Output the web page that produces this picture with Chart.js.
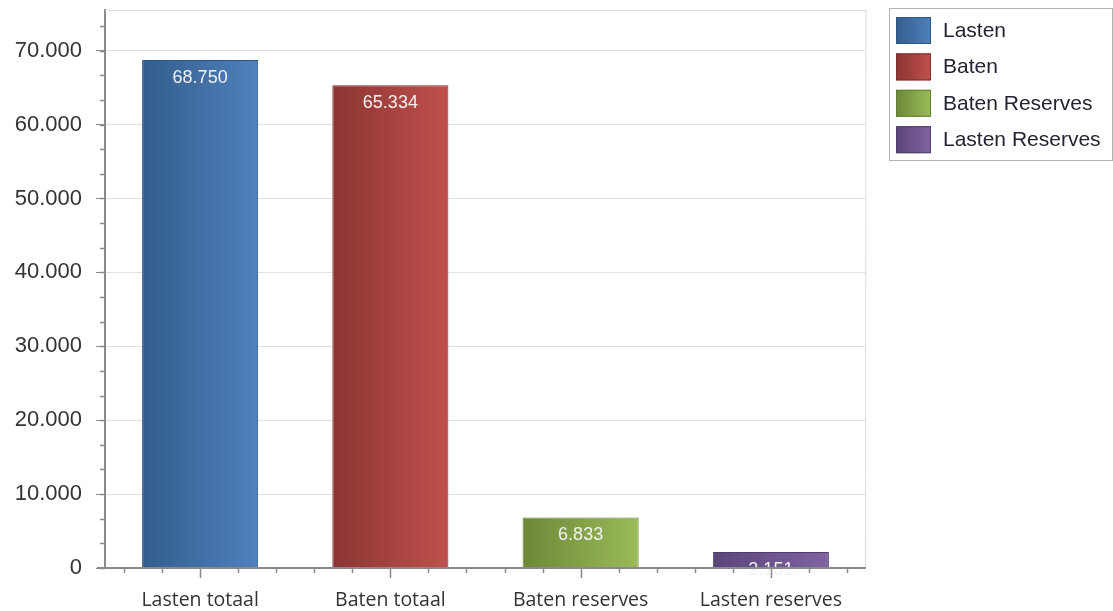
<!DOCTYPE html>
<html>
<head>
<meta charset="utf-8">
<script src="https://cdn.jsdelivr.net/npm/chart.js@4"></script>
<style>
  html, body { margin: 0; padding: 0; background: #fff; }
  #wrap { position: relative; width: 1113px; height: 611px; }
</style>
</head>
<body>
<div id="wrap"><canvas id="chart"></canvas></div>
<script>
const categories = ['Lasten totaal', 'Baten totaal', 'Baten reserves', 'Lasten reserves'];
const seriesNames = ['Lasten', 'Baten', 'Baten Reserves', 'Lasten Reserves'];
const values = [68750, 65334, 6833, 2151];
const yTicks = [0, 10000, 20000, 30000, 40000, 50000, 60000, 70000];
const darkColors = ['#335d8c', '#8c3533', '#6d8837', '#5a4577'];
const lightColors = ['#4f81bd', '#c0504d', '#9bbb59', '#8064a2'];
const edgeColors = ['#2e5582', '#7f2f2d', '#627c31', '#4f3c6a'];

const BAR_PCT = 0.61;
const nf = new Intl.NumberFormat('nl-NL');

function barGradient(chart, idx) {
  const area = chart.chartArea;
  const x = chart.scales.x;
  if (!area || !x) return lightColors[idx];
  const cx = x.getPixelForValue(idx);
  const w = (area.width / categories.length) * BAR_PCT;
  const g = chart.ctx.createLinearGradient(cx - w / 2, 0, cx + w / 2, 0);
  g.addColorStop(0, darkColors[idx]);
  g.addColorStop(1, lightColors[idx]);
  return g;
}

// one dataset per series so every bar gets its own legend entry
const datasets = seriesNames.map((name, i) => ({
  label: name,
  data: categories.map((c, j) => (j === i ? values[i] : null)),
  backgroundColor: (ctx) => barGradient(ctx.chart, i),
  borderColor: edgeColors[i],
  borderWidth: 1,
  barPercentage: BAR_PCT,
  categoryPercentage: 1,
  skipNull: true,
}));

// axis frame, minor ticks, value labels, legend box
const decorations = {
  id: 'decorations',
  beforeDatasetsDraw(chart) {
    const { ctx, chartArea: a } = chart;
    ctx.save();
    ctx.strokeStyle = '#dcdcdc';
    ctx.lineWidth = 1;
    ctx.beginPath();
    ctx.moveTo(a.left, a.top + 0.5);
    ctx.lineTo(a.right, a.top + 0.5);
    ctx.lineTo(a.right - 0.5, a.bottom);
    ctx.stroke();
    ctx.restore();
  },
  afterDatasetsDraw(chart) {
    const { ctx, chartArea: a, scales } = chart;
    ctx.save();
    // value labels
    ctx.fillStyle = '#f2f2f2';
    ctx.font = '18px "Liberation Sans", Arial, sans-serif';
    ctx.textAlign = 'center';
    ctx.textBaseline = 'middle';
    chart.data.datasets.forEach((ds, i) => {
      const meta = chart.getDatasetMeta(i);
      meta.data.forEach((el, j) => {
        if (ds.data[j] == null) return;
        ctx.fillText(nf.format(ds.data[j]), el.x, el.y + 18);
      });
    });
    // x axis line and ticks
    ctx.strokeStyle = '#8a8a8a';
    ctx.lineWidth = 2;
    ctx.beginPath();
    ctx.moveTo(a.left - 8, a.bottom);
    ctx.lineTo(a.right, a.bottom);
    ctx.stroke();
    ctx.lineWidth = 1.5;
    const step = a.width / categories.length / 5;
    categories.forEach((c, i) => {
      const cx = scales.x.getPixelForValue(i);
      for (let k = -2; k <= 2; k++) {
        const x = Math.round(cx + k * step) + 0.5;
        ctx.beginPath();
        ctx.moveTo(x, a.bottom);
        ctx.lineTo(x, a.bottom + (k === 0 ? 10 : 5));
        ctx.stroke();
      }
    });
    // y minor ticks
    const y = scales.y;
    for (let v = 0; v <= y.max; v += 10000 / 3) {
      const py = Math.round(y.getPixelForValue(v)) + 0.5;
      ctx.beginPath();
      ctx.moveTo(a.left - 5, py);
      ctx.lineTo(a.left, py);
      ctx.stroke();
    }
    ctx.restore();
  },
  afterDraw(chart) {
    const { ctx } = chart;
    const lx = 889, ly = 8, lw = 223, lh = 152;
    ctx.save();
    ctx.strokeStyle = '#b4b4b4';
    ctx.lineWidth = 1;
    ctx.strokeRect(lx + 0.5, ly + 0.5, lw, lh);
    ctx.font = '21px "Liberation Sans", Arial, sans-serif';
    ctx.textBaseline = 'middle';
    ctx.textAlign = 'left';
    seriesNames.forEach((name, i) => {
      const cy = 30 + i * 36.4;
      const g = ctx.createLinearGradient(896, 0, 931, 0);
      g.addColorStop(0, darkColors[i]);
      g.addColorStop(1, lightColors[i]);
      ctx.fillStyle = g;
      ctx.fillRect(896, cy - 13, 35, 27);
      ctx.strokeStyle = edgeColors[i];
      ctx.strokeRect(896.5, cy - 12.5, 34, 26);
      ctx.fillStyle = '#222433';
      ctx.fillText(name, 943, cy + 1);
    });
    ctx.restore();
  },
};

new Chart(document.getElementById('chart'), {
  type: 'bar',
  data: { labels: categories, datasets },
  options: {
    responsive: true,
    maintainAspectRatio: false,
    animation: false,
    layout: { padding: { top: 10, right: 247, left: 0, bottom: 0 } },
    plugins: {
      legend: { display: false },
      tooltip: { enabled: false },
    },
    scales: {
      x: {
        grid: { display: false, drawTicks: false },
        border: { display: false },
        ticks: {
          padding: 21,
          color: '#333333',
          font: { family: '"Open Sans", "Noto Sans", sans-serif', size: 19.5 },
        },
        afterFit(scale) {
          scale.height = 43;
          scale.paddingLeft = 0;
          scale.paddingRight = 0;
        },
      },
      y: {
        min: 0,
        max: 75500,
        grid: { color: '#e2e2e2', tickColor: '#8a8a8a', tickLength: 9, lineWidth: 1 },
        border: { color: '#8a8a8a', width: 2 },
        ticks: {
          padding: 14,
          color: '#333333',
          font: { family: '"Liberation Sans", Arial, sans-serif', size: 22 },
          callback: (v) => nf.format(v),
        },
        afterBuildTicks(scale) { scale.ticks = yTicks.map((v) => ({ value: v })); },
        afterFit(scale) {
          scale.width = 105;
          scale.paddingTop = 0;
          scale.paddingBottom = 0;
        },
      },
    },
  },
  plugins: [decorations],
});
</script>
</body>
</html>
